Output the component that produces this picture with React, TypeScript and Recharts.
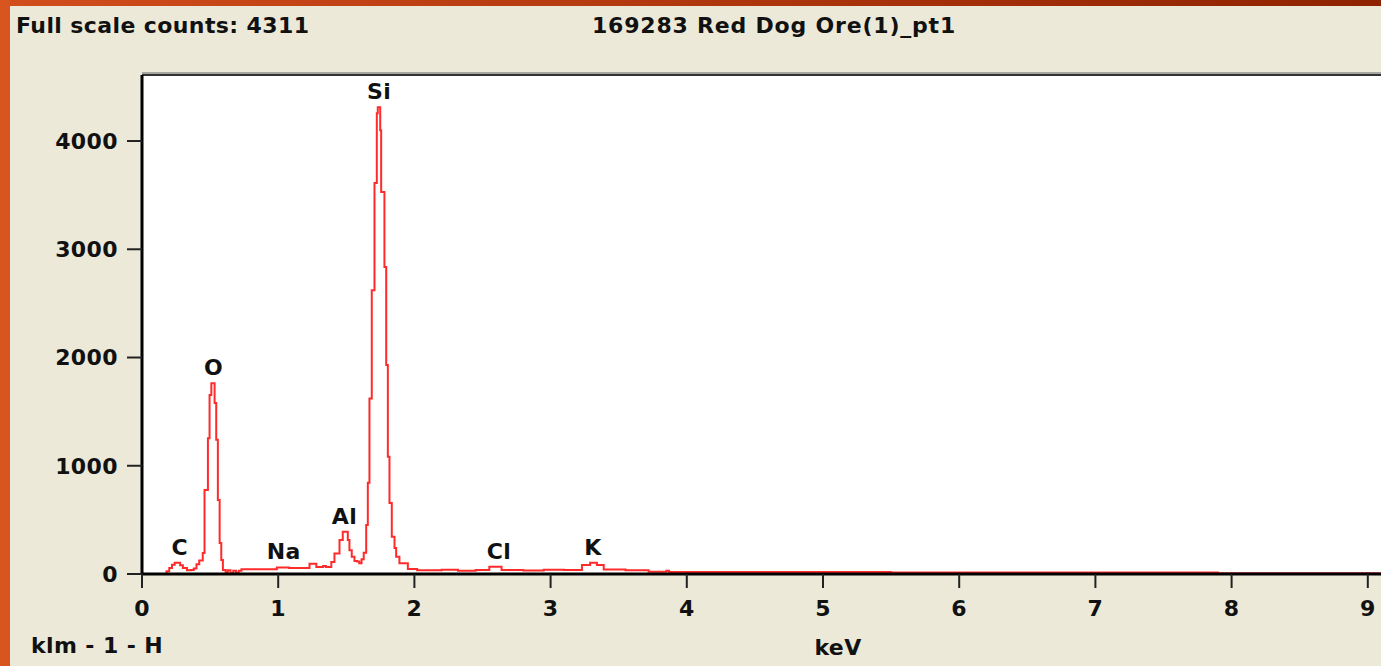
import React from "react";
import {
  LineChart,
  Line,
  XAxis,
  YAxis,
  CartesianGrid,
  ReferenceDot,
  ReferenceLine,
} from "recharts";

// spectrum as steps: channel start energy (keV) and counts held until next point
const energies = [
  0, 0.18, 0.2, 0.22, 0.24, 0.28, 0.3, 0.33, 0.36, 0.38, 0.4, 0.42, 0.446,
  0.459, 0.484, 0.496, 0.509, 0.533, 0.545, 0.557, 0.57, 0.582, 0.594,
  0.614, 0.63, 0.65, 0.67, 0.69, 0.71, 0.73, 0.99, 1.08, 1.23, 1.28, 1.33,
  1.35, 1.39, 1.413, 1.45, 1.474, 1.511, 1.523, 1.54, 1.56, 1.58, 1.595,
  1.612, 1.628, 1.646, 1.658, 1.67, 1.687, 1.707, 1.724, 1.731, 1.749,
  1.756, 1.78, 1.793, 1.805, 1.817, 1.834, 1.854, 1.866, 1.89, 1.952, 2.02,
  2.2, 2.32, 2.45, 2.55, 2.64, 2.8, 2.95, 3.1, 3.23, 3.29, 3.34, 3.39, 3.55,
  3.72, 3.85, 3.87, 5.5, 7.9, 10,
];
const counts = [
  0, 25, 55, 85, 104, 80, 55, 35, 37, 50, 90, 125, 193,
  775, 1255, 1653, 1763, 1580, 1240, 683, 286, 130, 37,
  15, 35, 10, 30, 12, 30, 43, 60, 55, 95, 65, 75,
  65, 110, 190, 314, 390, 314, 220, 160, 120, 115, 99,
  136, 197, 452, 843, 1622, 2622, 3613, 4256, 4311, 4100,
  3530, 2837, 1930, 1083, 656, 344, 240, 160, 100, 46, 35,
  40, 30, 38, 67, 36, 32, 40, 36, 83, 104, 83, 42, 35,
  20, 30, 18, 15, 8, 8,
];

const xTicks = [0, 1, 2, 3, 4, 5, 6, 7, 8, 9];
const yTicks = [0, 1000, 2000, 3000, 4000];
const yMax = 4610;

const peakNames = ["C", "O", "Na", "Al", "Si", "Cl", "K"];
const peakEnergies = [0.277, 0.525, 1.041, 1.486, 1.74, 2.621, 3.312];
const peakHeights = [104, 1763, 65, 390, 4311, 67, 104];

const titleText = "169283 Red Dog Ore(1)_pt1";
const scaleText = "Full scale counts: 4311";
const footText = "klm - 1 - H";
const xTitle = "keV";

const spectrum = energies.map((kev, i) => ({ kev, counts: counts[i] }));

const FONT = '"DejaVu Sans", Verdana, sans-serif';
const txt = { fontFamily: FONT, fontSize: 22, fontWeight: 700, fill: "#111", letterSpacing: 0.4 };

export default function App() {
  return (
    <div
      style={{
        position: "absolute",
        left: 0,
        top: 0,
        width: 1381,
        height: 666,
        overflow: "hidden",
        background: "#ECE9D8",
      }}
    >
      {/* frame */}
      <div style={{ position: "absolute", left: 0, top: 0, width: 1381, height: 6, background: "linear-gradient(to right, #d24d1c, #8e2200)" }} />
      <div style={{ position: "absolute", left: 0, top: 0, width: 10, height: 666, background: "#d9551f" }} />
      <div style={{ position: "absolute", left: 142, top: 72, width: 1300, height: 2, background: "#a8a6a0" }} />

      <div style={{ position: "absolute", left: 0, top: 0 }}>
        <LineChart
          width={1504}
          height={666}
          data={spectrum}
          margin={{ top: 75, right: 0, bottom: 32, left: 0 }}
        >
          <CartesianGrid fill="#ffffff" horizontal={false} vertical={false} />
          <XAxis
            dataKey="kev"
            type="number"
            domain={[0, 10]}
            ticks={xTicks}
            height={60}
            axisLine={{ stroke: "#000", strokeWidth: 3 }}
            tickLine={{ stroke: "#222", strokeWidth: 2 }}
            tickSize={14}
            tickMargin={12}
            tick={{ ...txt }}
            interval={0}
          />
          <YAxis
            type="number"
            domain={[0, yMax]}
            ticks={yTicks}
            width={142}
            allowDataOverflow
            axisLine={{ stroke: "#000", strokeWidth: 3 }}
            tickLine={{ stroke: "#222", strokeWidth: 2 }}
            tickSize={15}
            tickMargin={9}
            tick={{ ...txt }}
            interval={0}
          />
          <ReferenceLine y={yMax} stroke="#333" strokeWidth={2} ifOverflow="visible" />
          <Line
            dataKey="counts"
            type="stepAfter"
            stroke="#ff2b2b"
            strokeWidth={2}
            dot={false}
            isAnimationActive={false}
          />
          {peakNames.map((name, i) => (
            <ReferenceDot
              key={name}
              x={peakEnergies[i]}
              y={peakHeights[i]}
              r={0}
              fill="none"
              stroke="none"
              label={{ value: name, position: "top", offset: 8, ...txt }}
            />
          ))}
        </LineChart>
      </div>

      <svg
        width={1381}
        height={666}
        style={{ position: "absolute", left: 0, top: 0, pointerEvents: "none" }}
      >
        <text x={16} y={33} {...txt}>{scaleText}</text>
        <text x={774} y={33} textAnchor="middle" {...txt} letterSpacing={0.8}>{titleText}</text>
        <text x={31} y={653} {...txt}>{footText}</text>
        <text x={838} y={655} textAnchor="middle" {...txt}>{xTitle}</text>
      </svg>
    </div>
  );
}
